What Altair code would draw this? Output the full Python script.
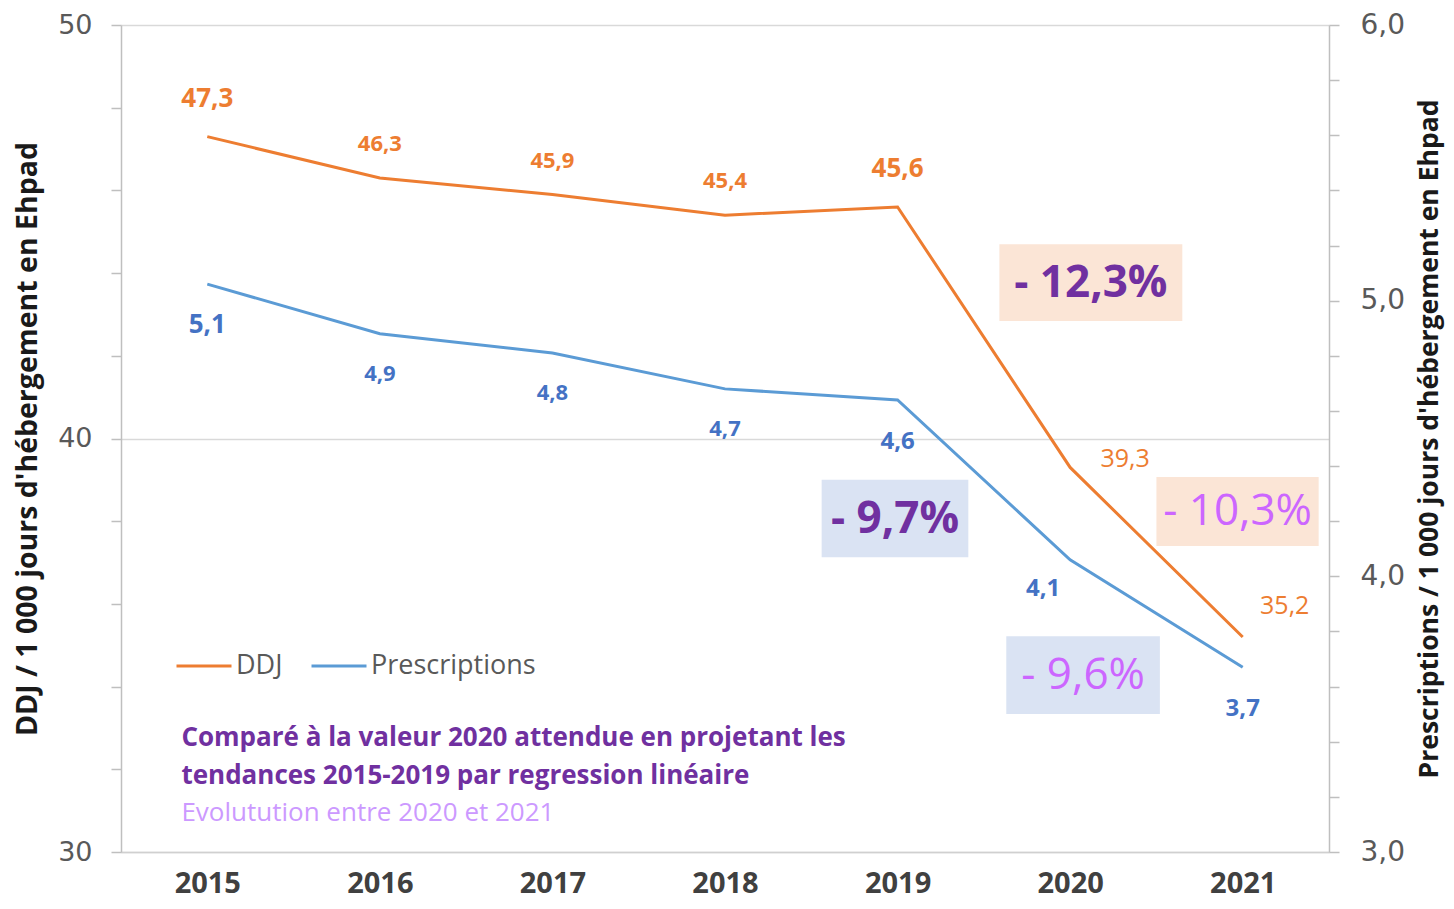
import altair as alt
import pandas as pd

# ---------------- data ----------------
years = [2015, 2016, 2017, 2018, 2019, 2020, 2021]
ddj = [47.3, 46.3, 45.9, 45.4, 45.6, 39.3, 35.2]
ddj_labels = ["47,3", "46,3", "45,9", "45,4", "45,6", "39,3", "35,2"]
presc = [5.06, 4.88, 4.81, 4.68, 4.64, 4.06, 3.67]
presc_labels = ["5,1", "4,9", "4,8", "4,7", "4,6", "4,1", "3,7"]

series_names = ["DDJ", "Prescriptions"]

# annotation boxes (data space: x in years, y on the DDJ axis)
box_text = ["- 12,3%", "- 9,7%", "- 10,3%", "- 9,6%"]
box_serie = ["DDJ", "Prescriptions", "DDJ", "Prescriptions"]
box_kind = ["trend", "trend", "evol", "evol"]
box_x0 = [2019.59, 2018.56, 2020.50, 2019.63]
box_x1 = [2020.65, 2019.41, 2021.44, 2020.52]
box_y0 = [44.70, 39.00, 39.07, 35.22]
box_y1 = [42.84, 37.13, 37.40, 33.34]

note_lines = [
    "Comparé à la valeur 2020 attendue en projetant les",
    "tendances 2015-2019 par regression linéaire",
    "Evolutution entre 2020 et 2021",
]
note_kind = ["trend", "trend", "evol"]
note_x = [2014.85, 2014.85, 2014.85]
note_y = [32.76, 31.84, 30.94]

left_ticks = list(range(30, 51, 2))
right_ticks = [round(3 + 0.2 * i, 1) for i in range(16)]

# ---------------- styles ----------------
ORANGE = "#ED7D31"
BLUE = "#5B9BD5"
BLUE_LAB = "#4472C4"
DARK_PURPLE = "#7030A0"
LIGHT_PURPLE = "#CC66FF"
NOTE_LIGHT = "#CC99FF"
FONT = "Open Sans"

df = pd.DataFrame({"year": years, "ddj": ddj, "presc": presc,
                   "ddj_lab": ddj_labels, "presc_lab": presc_labels})
boxes = pd.DataFrame({"txt": box_text, "serie": box_serie, "kind": box_kind,
                      "x0": box_x0, "x1": box_x1, "y0": box_y0, "y1": box_y1})
notes = pd.DataFrame({"txt": note_lines, "kind": note_kind, "x": note_x, "y": note_y})

xs = alt.Scale(domain=[2014.5, 2021.5], nice=False, zero=False)
yl = alt.Scale(domain=[30, 50], nice=False, zero=False)
yr = alt.Scale(domain=[3, 6], nice=False, zero=False)

x_axis = alt.Axis(
    values=years, format="d", title=None, ticks=False, grid=False,
    labelFont=FONT, labelFontWeight="bold", labelFontSize=29, labelColor="#404040",
    labelBaseline="alphabetic", labelPadding=40, domainColor="#D0D0D0", domainWidth=1.5)

color_enc = alt.Color("serie:N", scale=alt.Scale(domain=series_names, range=[ORANGE, BLUE]),
                      legend=alt.Legend(orient="none", legendX=54, legendY=612, direction="horizontal",
                                        title=None, symbolType="stroke", symbolSize=3025,
                                        symbolStrokeWidth=3, labelFont=FONT, labelFontSize=27,
                                        labelColor="#595959", labelOffset=3, columnPadding=22,
                                        labelLimit=400))

left_axis = alt.Axis(values=left_ticks, orient="left",
                     title="DDJ / 1 000 jours d'hébergement en Ehpad",
                     labelExpr="datum.value % 10 == 0 ? datum.label : ''",
                     grid=True, gridColor="#D9D9D9", gridWidth=1.5,
                     gridOpacity=alt.ExprRef("datum.value % 10 == 0 ? 1 : 0"),
                     domainColor="#BFBFBF", domainWidth=1.5, tickColor="#BFBFBF", tickSize=10,
                     tickWidth=1.5,
                     labelFont="DejaVu Sans", labelFontSize=27, labelColor="#595959",
                     labelPadding=19, titleFont=FONT, titleFontWeight="bold", titleFontSize=28.5,
                     titleColor="#1a1a1a", titlePadding=15)

right_axis = alt.Axis(values=right_ticks, orient="right",
                      title="Prescriptions / 1 000 jours d'hébergement en Ehpad",
                      labelExpr="abs(datum.value - round(datum.value)) < 0.001 ? replace(format(datum.value, '.1f'), '.', ',') : ''",
                      grid=False, domainColor="#BFBFBF", domainWidth=1.5, tickColor="#BFBFBF",
                      tickSize=10, tickWidth=1.5,
                      labelFont="DejaVu Sans", labelFontSize=28, labelColor="#595959",
                      labelPadding=21, titleFont=FONT, titleFontWeight="bold", titleFontSize=26.5,
                      titleColor="#1a1a1a", titlePadding=12, titleAngle=270, titleBaseline="top")


def X(field):
    return alt.X(field, type="quantitative", scale=xs, axis=x_axis)


def YL(field):
    return alt.Y(field, type="quantitative", scale=yl, axis=left_axis)


def YR(field):
    return alt.Y(field, type="quantitative", scale=yr, axis=right_axis)


base = alt.Chart(df)

ddj_line = base.transform_calculate(serie="'DDJ'").mark_line(strokeWidth=3).encode(
    x=X("year"), y=YL("ddj"), color=color_enc)

presc_line = base.transform_calculate(serie="'Prescriptions'").mark_line(strokeWidth=3).encode(
    x=X("year"), y=YR("presc"), color=color_enc)


def labels(yfun, field, lab, yrs, color, dx, dy, size, weight):
    return base.transform_filter(alt.FieldOneOfPredicate(field="year", oneOf=yrs)).mark_text(
        font=FONT, fontSize=size, fontWeight=weight, color=color, dx=dx, dy=dy,
        align="center", baseline="middle").encode(
        x=X("year"), y=yfun(field), text=alt.Text(lab, type="nominal"))


ddj_labs = [
    labels(YL, "ddj", "ddj_lab", [2015, 2019], ORANGE, 0, -38, 26, "bold"),
    labels(YL, "ddj", "ddj_lab", [2016, 2017, 2018], ORANGE, 0, -34, 22, "bold"),
    labels(YL, "ddj", "ddj_lab", [2020], ORANGE, 55, -8, 25, "normal"),
    labels(YL, "ddj", "ddj_lab", [2021], ORANGE, 42, -31, 25, "normal"),
]
presc_labs = [
    labels(YR, "presc", "presc_lab", [2015], BLUE_LAB, 0, 41, 26, "bold"),
    labels(YR, "presc", "presc_lab", [2016, 2017, 2018], BLUE_LAB, 0, 40, 22, "bold"),
    labels(YR, "presc", "presc_lab", [2019], BLUE_LAB, 0, 42, 24, "bold"),
    labels(YR, "presc", "presc_lab", [2020], BLUE_LAB, -27, 29, 24, "bold"),
    labels(YR, "presc", "presc_lab", [2021], BLUE_LAB, 0, 42, 24, "bold"),
]

box_base = alt.Chart(boxes)
rects = box_base.mark_rect().encode(
    x=X("x0"), x2="x1:Q", y=YL("y0"), y2="y1:Q",
    fill=alt.Fill("serie:N", scale=alt.Scale(domain=series_names, range=["#FBE5D6", "#DAE3F3"]),
                  legend=None))


def box_texts(kind, color, weight):
    return box_base.transform_filter(alt.datum.kind == kind).transform_calculate(
        xm="(datum.x0 + datum.x1) / 2", ym="(datum.y0 + datum.y1) / 2").mark_text(
        font=FONT, fontSize=44, fontWeight=weight, color=color, align="center",
        baseline="middle", dy=1).encode(x=X("xm"), y=YL("ym"), text="txt:N")


note_base = alt.Chart(notes)


def note_texts(kind, color, weight):
    return note_base.transform_filter(alt.datum.kind == kind).mark_text(
        font=FONT, fontSize=26, fontWeight=weight, color=color, align="left",
        baseline="middle").encode(x=X("x"), y=YL("y"), text="txt:N")


left_layer = alt.layer(
    ddj_line, *ddj_labs, rects,
    box_texts("trend", DARK_PURPLE, "bold"), box_texts("evol", LIGHT_PURPLE, "normal"),
    note_texts("trend", DARK_PURPLE, "bold"), note_texts("evol", NOTE_LIGHT, "normal"),
)
right_layer = alt.layer(presc_line, *presc_labs)

chart = alt.layer(left_layer, right_layer).resolve_scale(y="independent").properties(
    width=1208, height=827,
    autosize=alt.AutoSizeParams(type="none"),
    padding={"left": 113, "top": 17, "right": 117, "bottom": 49},
    background="white",
).configure_view(stroke=None)

chart.save("out.html", embed_options={"renderer": "svg", "actions": False})
